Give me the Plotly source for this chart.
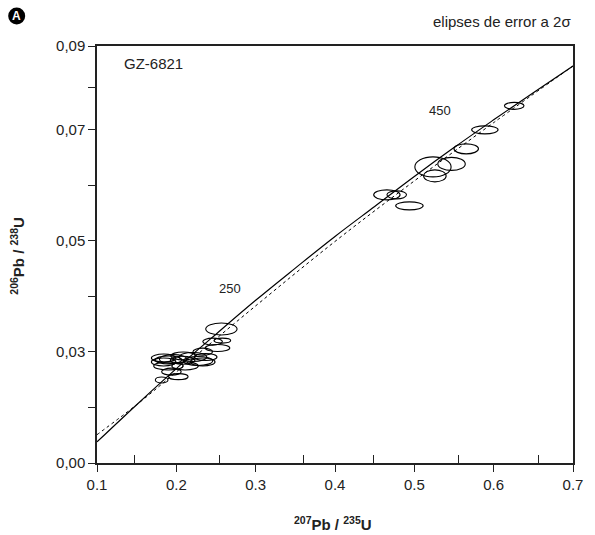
import plotly.graph_objects as go

# ---- data (axis units) ----
conc_x = [0.10, 0.15, 0.20, 0.25, 0.30, 0.35, 0.40, 0.45, 0.50, 0.55, 0.60, 0.65, 0.70]
conc_y = [0.0138, 0.0205, 0.0270, 0.0332, 0.0393, 0.0451, 0.0508, 0.0562, 0.0616, 0.0668, 0.0718, 0.0767, 0.0815]

dash_x = [0.10, 0.15, 0.20, 0.30, 0.40, 0.50, 0.60, 0.70]
dash_y = [0.0151, 0.0205, 0.0264, 0.0383, 0.0499, 0.0608, 0.0713, 0.0815]

# ellipse centres and full widths / heights
ell_x = [0.6259, 0.5889, 0.5654, 0.5235, 0.5469, 0.5259, 0.4654, 0.4778, 0.4938,
         0.2568, 0.2457, 0.2580, 0.2519, 0.2333, 0.2370,
         0.1840, 0.1960, 0.2080, 0.1900, 0.1900, 0.2110, 0.1938, 0.2025, 0.1815,
         0.2210, 0.2272, 0.2086, 0.2333, 0.1840]
ell_y = [0.07432, 0.0700, 0.06658, 0.06333, 0.06387, 0.06171, 0.05829, 0.05829, 0.05631,
         0.03414, 0.03186, 0.03204, 0.03072, 0.03005, 0.0291,
         0.02890, 0.02870, 0.02850, 0.02856, 0.02748, 0.02748, 0.02645, 0.02555, 0.02495,
         0.0291, 0.02838, 0.02928, 0.0282, 0.0282]
ell_w = [0.0247, 0.0333, 0.0309, 0.0457, 0.0346, 0.0284, 0.0333, 0.0247, 0.0346,
         0.0395, 0.0247, 0.0210, 0.0309, 0.0247, 0.0284,
         0.0309, 0.0346, 0.0309, 0.0333, 0.0370, 0.0333, 0.0247, 0.0247, 0.0160,
         0.0346, 0.0370, 0.0309, 0.0309, 0.0309]
ell_h = [0.00126, 0.00144, 0.0018, 0.0036, 0.00234, 0.00216, 0.0018, 0.00144, 0.00144,
         0.00216, 0.00126, 0.0009, 0.00126, 0.00126, 0.00126,
         0.00144, 0.00162, 0.00144, 0.00144, 0.00144, 0.00144, 0.00126, 0.00108, 0.00108,
         0.00162, 0.00162, 0.00144, 0.00144, 0.00144]

age_labels = ["250", "450"]
age_x = [0.268, 0.532]
age_y = [0.0415, 0.0734]

x_ticks = [0.1, 0.2, 0.3, 0.4, 0.5, 0.6, 0.7]
x_ticktext = ["0.1", "0.2", "0.3", "0.4", "0.5", "0.6", "0.7"]
x_minor = [0.147, 0.254, 0.360, 0.449, 0.556, 0.657]
y_ticks = [0.0100, 0.03, 0.05, 0.07, 0.0851]
y_ticktext = ["0,00", "0,03", "0,05", "0,07", "0,09"]
y_minor = [0.02, 0.04, 0.06, 0.0776]

FONT = "Liberation Sans, Arial, Helvetica, sans-serif"

fig = go.Figure()
fig.add_trace(go.Scatter(x=conc_x, y=conc_y, mode="lines", line=dict(color="black", width=1.2),
                         line_shape="spline", hoverinfo="skip"))
fig.add_trace(go.Scatter(x=dash_x, y=dash_y, mode="lines", line=dict(color="black", width=1, dash="3px,3px"),
                         line_shape="spline", hoverinfo="skip"))

shapes = []
for cx, cy, w, h in zip(ell_x, ell_y, ell_w, ell_h):
    shapes.append(dict(type="circle", xref="x", yref="y", x0=cx - w / 2, x1=cx + w / 2,
                       y0=cy - h / 2, y1=cy + h / 2, line=dict(color="black", width=1.1)))
# badge circle
shapes.append(dict(type="circle", xref="paper", yref="paper", xsizemode="pixel", ysizemode="pixel",
                   xanchor=(15 - 97) / 486, yanchor=(463 - 16) / 417, x0=-8.5, x1=8.5, y0=-8.5, y1=8.5,
                   fillcolor="black", line=dict(color="black", width=0)))

annotations = [
    dict(text="<b>A</b>", x=(15 - 97) / 486, y=(463 - 16) / 417, xref="paper", yref="paper",
         showarrow=False, font=dict(color="white", size=12, family=FONT), xanchor="center", yanchor="middle"),
    dict(text="elipses de error a 2σ", x=1.0, y=(463 - 22) / 417, xref="paper", yref="paper",
         showarrow=False, font=dict(color="#222", size=15, family=FONT), xanchor="right", yanchor="middle"),
    dict(text="GZ-6821", x=(123 - 97) / 486, y=(463 - 64) / 417, xref="paper", yref="paper",
         showarrow=False, font=dict(color="#222", size=15, family=FONT), xanchor="left", yanchor="middle"),
    dict(text="<b><sup>207</sup>Pb / <sup>235</sup>U</b>", x=0.495, y=(463 - 523) / 417, xref="paper", yref="paper",
         showarrow=False, font=dict(color="#222", size=15, family=FONT), xanchor="center", yanchor="middle"),
    dict(text="<b><sup>206</sup>Pb / <sup>238</sup>U</b>", x=(15 - 97) / 486, y=(463 - 256) / 417, xref="paper",
         yref="paper", textangle=-90,
         showarrow=False, font=dict(color="#222", size=15, family=FONT), xanchor="center", yanchor="middle"),
]
for t, ax, ay in zip(age_labels, age_x, age_y):
    annotations.append(dict(text=t, x=ax, y=ay, xref="x", yref="y", showarrow=False,
                            font=dict(color="#222", size=13, family=FONT)))

fig.update_layout(
    width=595, height=535, margin=dict(l=97, r=12, t=46, b=72),
    paper_bgcolor="white", plot_bgcolor="white", showlegend=False,
    shapes=shapes, annotations=annotations,
    font=dict(family=FONT, size=15, color="#222"),
)
fig.update_xaxes(range=[0.1, 0.7], tickvals=x_ticks, ticktext=x_ticktext, ticks="outside", ticklen=7,
                 tickwidth=1.2, tickcolor="#222", showline=True, linecolor="#222", linewidth=1.5, mirror=True,
                 showgrid=False, zeroline=False, tickfont=dict(size=15),
                 minor=dict(tickvals=x_minor, ticks="inside", ticklen=8, tickwidth=1.2, tickcolor="#222",
                            showgrid=False))
fig.update_yaxes(range=[0.0100, 0.0851], tickvals=y_ticks, ticktext=y_ticktext, ticks="outside", ticklen=7,
                 tickwidth=1.2, tickcolor="#222", showline=True, linecolor="#222", linewidth=1.5, mirror=True,
                 showgrid=False, zeroline=False, tickfont=dict(size=15),
                 minor=dict(tickvals=y_minor, ticks="outside", ticklen=7, tickwidth=1.2, tickcolor="#222",
                            showgrid=False))

fig.write_html("out.html")
